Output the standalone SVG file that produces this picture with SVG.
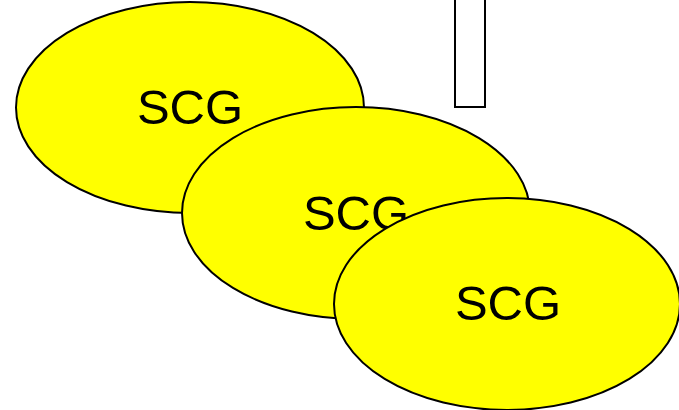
<svg xmlns="http://www.w3.org/2000/svg" width="679" height="410" viewBox="0 0 679 410">
<style>
.n{fill:#ffff00;stroke:#000;stroke-width:2}
.t{font-family:"Liberation Sans",Arial,sans-serif;font-size:49px;fill:#000;text-anchor:middle}
.r{fill:#fff;stroke:#000;stroke-width:2}
</style>
<rect fill="#fff" width="679" height="410"/>
<g id="bar"><rect class="r" x="455" y="-3" width="30" height="110"/></g>
<g id="connectors"></g>
<g id="scg1"><ellipse class="n" cx="190" cy="107.5" rx="174" ry="105.5"/><text class="t" x="190" y="124">SCG</text></g>
<g id="scg2"><ellipse class="n" cx="356" cy="213" rx="174" ry="106"/><text class="t" x="356" y="230">SCG</text></g>
<g id="scg3"><ellipse class="n" cx="507" cy="304" rx="173" ry="106"/><text class="t" x="508" y="320">SCG</text></g>
</svg>
